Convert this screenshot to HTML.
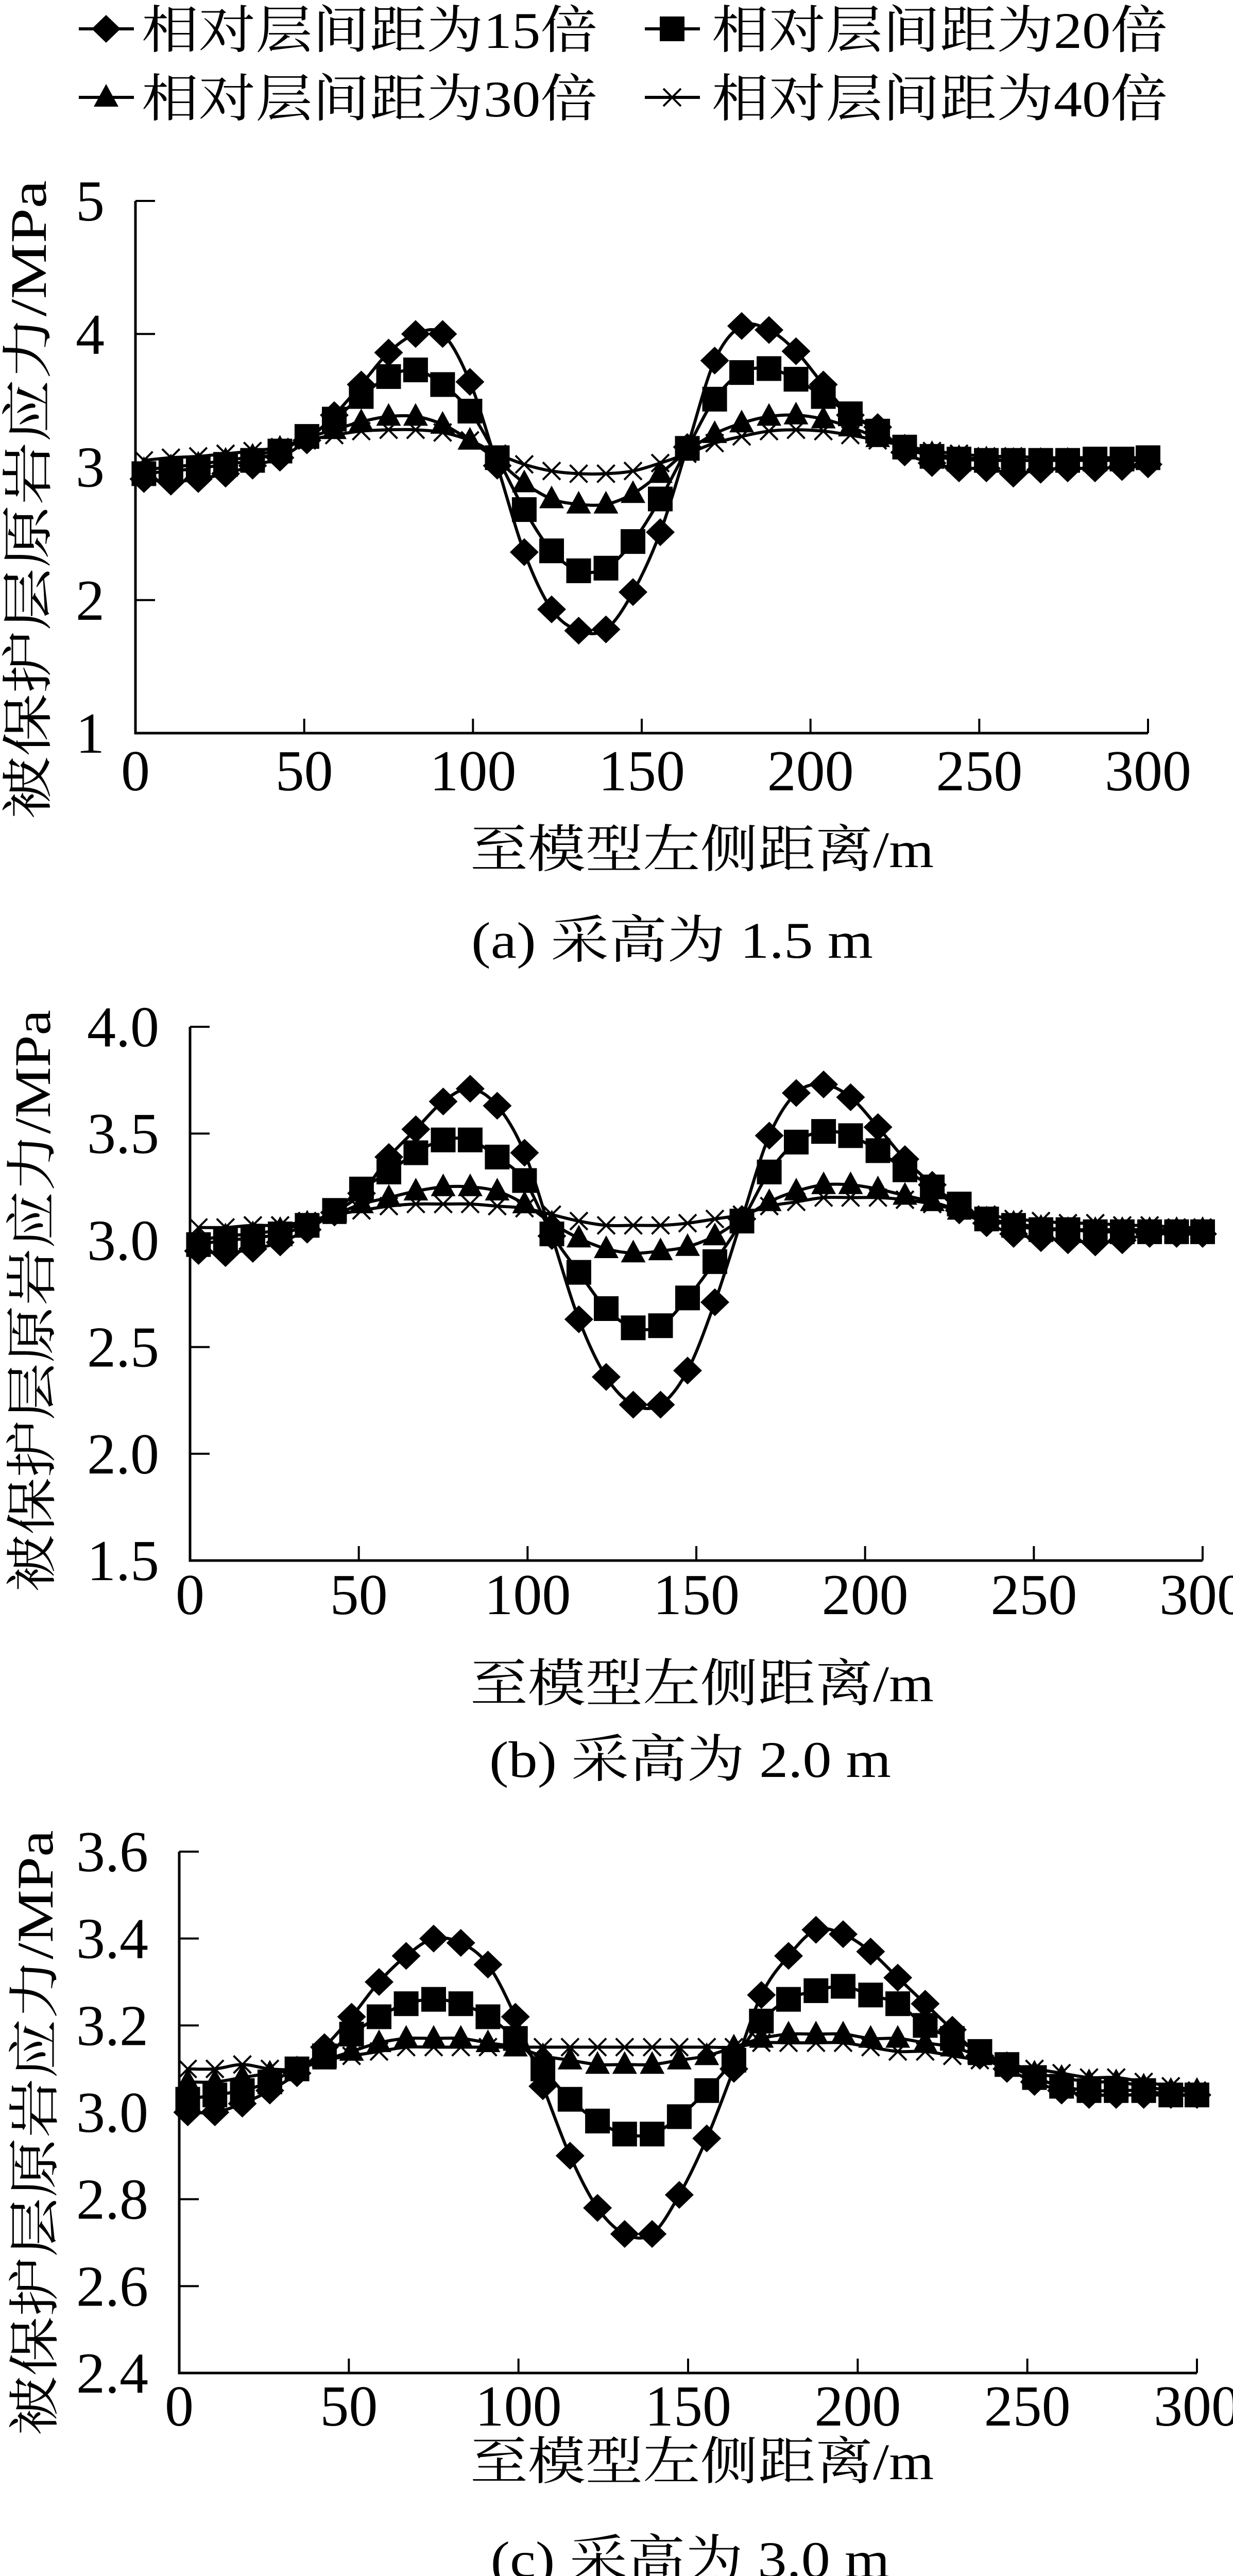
<!DOCTYPE html>
<html><head><meta charset="utf-8"><style>
html,body{margin:0;padding:0;background:#fff;overflow:hidden}
svg{display:block}
text{font-family:"Liberation Serif","Noto Serif CJK SC","Noto Sans CJK SC",serif;fill:#000}
</style></head><body>
<svg id="fig" width="2394" height="5062" viewBox="0 0 2394 5062" xmlns="http://www.w3.org/2000/svg">
<g id="legend"></g>
</svg>
<script>
const xValues=[2.5,10.5,18.6,26.7,34.7,42.8,50.8,58.9,66.9,75,83,91,99.1,107.2,115.2,123.3,131.3,139.4,147.4,155.5,163.5,171.6,179.6,187.7,195.7,203.8,211.8,219.9,227.9,236,244,252.1,260.1,268.2,276.2,284.3,292.3,300];
const seriesNames=["相对层间距为15倍","相对层间距为20倍","相对层间距为30倍","相对层间距为40倍"];
const xTicks=[0,50,100,150,200,250,300];
const yTicksA=["1","2","3","4","5"];
const yTicksB=["1.5","2.0","2.5","3.0","3.5","4.0"];
const yTicksC=["2.4","2.6","2.8","3.0","3.2","3.4","3.6"];
const captions=["(a) 采高为 1.5 m","(b) 采高为 2.0 m","(c) 采高为 3.0 m"];
// chart (a)
const a15=[2.91,2.89,2.91,2.95,3.01,3.07,3.2,3.39,3.62,3.86,4.0,4.0,3.64,3.01,2.36,1.93,1.77,1.78,2.06,2.51,3.15,3.8,4.06,4.03,3.87,3.62,3.39,3.3,3.11,3.03,2.99,2.99,2.95,2.98,2.99,2.99,3.0,3.02];
const a20=[2.95,2.97,2.99,3.02,3.05,3.12,3.23,3.36,3.53,3.68,3.73,3.62,3.42,3.07,2.68,2.37,2.22,2.24,2.44,2.76,3.14,3.51,3.71,3.74,3.66,3.53,3.4,3.27,3.15,3.08,3.06,3.05,3.05,3.05,3.05,3.06,3.06,3.07];
const a30=[2.98,3.0,3.02,3.05,3.08,3.14,3.22,3.28,3.34,3.38,3.38,3.32,3.2,3.05,2.88,2.76,2.72,2.72,2.8,2.95,3.12,3.25,3.33,3.38,3.39,3.36,3.3,3.22,3.15,3.1,3.07,3.06,3.05,3.05,3.05,3.05,3.05,3.05];
const a40=[3.05,3.07,3.08,3.1,3.12,3.15,3.2,3.24,3.27,3.28,3.28,3.26,3.2,3.1,3.02,2.97,2.95,2.95,2.97,3.03,3.1,3.18,3.23,3.27,3.28,3.27,3.24,3.2,3.16,3.12,3.1,3.08,3.08,3.07,3.07,3.07,3.07,3.07];
// chart (b)
const b15=[2.95,2.94,2.96,2.99,3.05,3.13,3.22,3.39,3.52,3.65,3.71,3.63,3.41,3.02,2.63,2.36,2.23,2.23,2.39,2.71,3.1,3.49,3.69,3.73,3.67,3.53,3.38,3.26,3.14,3.08,3.03,3.01,3.0,2.99,3.0,3.03,3.03,3.03];
const b20=[2.98,3.0,3.01,3.03,3.07,3.14,3.24,3.32,3.41,3.47,3.47,3.39,3.28,3.03,2.85,2.68,2.59,2.6,2.73,2.9,3.09,3.32,3.46,3.51,3.49,3.42,3.33,3.25,3.17,3.1,3.07,3.05,3.05,3.04,3.04,3.04,3.04,3.04];
const b30=[3.0,3.02,3.03,3.05,3.08,3.12,3.17,3.2,3.23,3.25,3.25,3.23,3.17,3.08,3.01,2.96,2.94,2.95,2.97,3.02,3.1,3.18,3.23,3.26,3.26,3.24,3.21,3.18,3.14,3.1,3.08,3.06,3.05,3.05,3.05,3.05,3.05,3.05];
const b40=[3.06,3.06,3.07,3.07,3.09,3.12,3.14,3.16,3.17,3.17,3.17,3.16,3.15,3.12,3.09,3.07,3.07,3.07,3.08,3.1,3.12,3.16,3.18,3.2,3.2,3.2,3.19,3.17,3.14,3.12,3.1,3.09,3.08,3.08,3.07,3.07,3.06,3.06];
// chart (c)
const c15=[3.0,3.0,3.02,3.05,3.09,3.15,3.22,3.3,3.36,3.4,3.39,3.34,3.22,3.06,2.9,2.78,2.72,2.72,2.81,2.94,3.1,3.27,3.36,3.42,3.41,3.37,3.31,3.25,3.19,3.13,3.1,3.07,3.05,3.04,3.04,3.04,3.04,3.04];
const c20=[3.03,3.04,3.05,3.07,3.1,3.13,3.18,3.22,3.25,3.26,3.25,3.22,3.17,3.1,3.03,2.98,2.95,2.95,2.99,3.05,3.12,3.21,3.26,3.28,3.29,3.27,3.25,3.2,3.17,3.14,3.11,3.08,3.06,3.05,3.05,3.05,3.04,3.04];
const c30=[3.07,3.07,3.08,3.09,3.1,3.12,3.14,3.16,3.17,3.17,3.17,3.16,3.15,3.13,3.12,3.11,3.11,3.11,3.12,3.13,3.15,3.17,3.18,3.18,3.18,3.17,3.17,3.16,3.15,3.13,3.11,3.09,3.08,3.07,3.07,3.06,3.05,3.05];
const c40=[3.1,3.1,3.11,3.1,3.1,3.12,3.13,3.14,3.15,3.15,3.15,3.15,3.15,3.15,3.15,3.15,3.15,3.15,3.15,3.15,3.15,3.16,3.16,3.16,3.16,3.15,3.14,3.14,3.13,3.12,3.11,3.1,3.09,3.08,3.08,3.07,3.06,3.05];

const NS="http://www.w3.org/2000/svg";
const fig=document.getElementById('fig');
function mk(tag,attrs,parent){const e=document.createElementNS(NS,tag);for(const k in attrs)e.setAttribute(k,attrs[k]);(parent||fig).appendChild(e);return e;}

function marker(type,cx,cy,parent){
  let e;
  if(type===0){e=mk('polygon',{points:`${cx},${cy-27} ${cx+28},${cy} ${cx},${cy+27} ${cx-28},${cy}`,fill:'#000'},parent);}
  else if(type===1){e=mk('rect',{x:cx-24,y:cy-24,width:48,height:48,fill:'#000'},parent);}
  else if(type===2){e=mk('polygon',{points:`${cx},${cy-26} ${cx+24},${cy+18} ${cx-24},${cy+18}`,fill:'#000'},parent);}
  else {e=mk('path',{d:`M${cx-17},${cy-17}L${cx+17},${cy+17}M${cx-17},${cy+17}L${cx+17},${cy-17}`,stroke:'#000','stroke-width':4,fill:'none'},parent);}
  return e;
}
function smoothPath(pts){
  let d=`M${pts[0][0]},${pts[0][1]}`;
  for(let i=0;i<pts.length-1;i++){
    const p0=pts[Math.max(i-1,0)],p1=pts[i],p2=pts[i+1],p3=pts[Math.min(i+2,pts.length-1)];
    const c1x=p1[0]+(p2[0]-p0[0])/6,c1y=p1[1]+(p2[1]-p0[1])/6;
    const c2x=p2[0]-(p3[0]-p1[0])/6,c2y=p2[1]-(p3[1]-p1[1])/6;
    d+=`C${c1x.toFixed(1)},${c1y.toFixed(1)} ${c2x.toFixed(1)},${c2y.toFixed(1)} ${p2[0]},${p2[1]}`;
  }
  return d;
}

const leg=document.getElementById('legend');
const legPos=[[153,56,275],[1252,56,1382],[153,189,275],[1252,189,1382]];
seriesNames.forEach((n,i)=>{
  const [lx,ly,tx]=legPos[i];
  const g=mk('g',{},leg);
  
  
  mk('line',{x1:lx,y1:ly,x2:lx+107,y2:ly,stroke:'#000','stroke-width':6},g);
  marker(i,lx+53,ly,g);
  const t=mk('text',{x:tx,y:ly+37,'font-size':100,textLength:885,lengthAdjust:'spacingAndGlyphs'},g);
  t.textContent=n;
});

function drawChart(cfg){
  const g=mk('g',{});
  
  
  const X=v=>cfg.x0+(v-0)*(cfg.x1-cfg.x0)/300;
  const Y=v=>cfg.yb+(v-cfg.ymin)*(cfg.yt-cfg.yb)/(cfg.ymax-cfg.ymin);
  const ax=mk('path',{d:`M${cfg.x0},${cfg.yt}V${cfg.yb}H${cfg.x1}`,stroke:'#000','stroke-width':5,fill:'none'},g);
  
  
  xTicks.forEach(v=>{
    const x=X(v);
    if(v>0)mk('line',{x1:x,y1:cfg.yb,x2:x,y2:cfg.yb-28,stroke:'#000','stroke-width':4},g);
    const t=mk('text',{x:x,y:cfg.xlabY+38,'font-size':112,'text-anchor':'middle'},g);
    
    
    t.textContent=v;
  });
  cfg.yTicks.forEach(s=>{
    const y=Y(parseFloat(s));
    mk('line',{x1:cfg.x0,y1:y,x2:cfg.x0+38,y2:y,stroke:'#000','stroke-width':4},g);
    const t=mk('text',{x:cfg.x0-60,y:y+38,'font-size':112,'text-anchor':'end'},g);
    
    
    t.textContent=s;
  });
  cfg.series.forEach((vals,si)=>{
    const sg=mk('g',{},g);
    
    
    const pts=vals.map((v,i)=>[+X(xValues[i]).toFixed(1),+Y(v).toFixed(1)]);
    mk('path',{d:smoothPath(pts),stroke:'#000','stroke-width':6,fill:'none'},sg);
    pts.forEach(p=>{
      const m=marker(si,p[0],p[1],sg);
      
      
    });
  });
  const yt=mk('text',{x:0,y:0,'font-size':100,'text-anchor':'middle',textLength:cfg.ytLen,lengthAdjust:'spacingAndGlyphs',transform:`translate(${cfg.ytX+36},${cfg.ytY}) rotate(-90)`},g);
  
  
  yt.textContent='被保护层原岩应力/MPa';
  const xt=mk('text',{x:1363,y:cfg.xtY+37,'font-size':100,'text-anchor':'middle',textLength:900,lengthAdjust:'spacingAndGlyphs'},g);
  
  
  xt.textContent='至模型左侧距离/m';
  const cp=mk('text',{x:cfg.capX,y:cfg.capY+37,'font-size':100,'text-anchor':'middle',textLength:cfg.capLen,lengthAdjust:'spacingAndGlyphs'},g);
  
  
  cp.textContent=cfg.caption;
}

drawChart({name:'chart-a',x0:263,x1:2229,yt:390,yb:1423,ymin:1,ymax:5,yTicks:yTicksA,series:[a15,a20,a30,a40],
  xlabY:1496,xtY:1646,capY:1822,capX:1305,capLen:780,caption:captions[0],ytX:53,ytY:970,ytLen:1240});
drawChart({name:'chart-b',x0:369,x1:2335,yt:1993,yb:3029,ymin:1.5,ymax:4.0,yTicks:yTicksB,series:[b15,b20,b30,b40],
  xlabY:3095,xtY:3265,capY:3412,capX:1340,capLen:780,caption:captions[1],ytX:61,ytY:2525,ytLen:1130});
drawChart({name:'chart-c',x0:348,x1:2324,yt:3594,yb:4606,ymin:2.4,ymax:3.6,yTicks:yTicksC,series:[c15,c20,c30,c40],
  xlabY:4670,xtY:4775,capY:4965,capX:1340,capLen:775,caption:captions[2],ytX:66,ytY:4140,ytLen:1175});
</script>
</body></html>
